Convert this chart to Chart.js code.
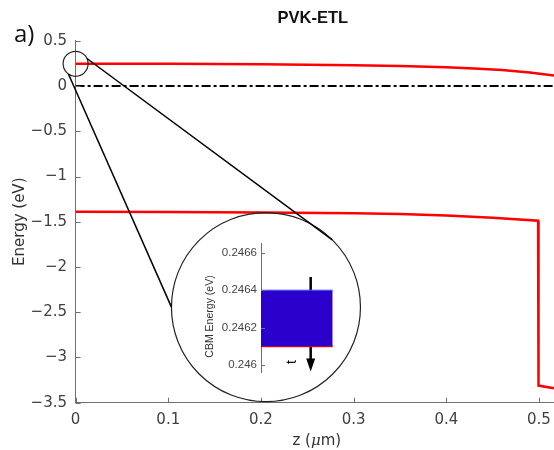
<!DOCTYPE html>
<html><head><meta charset="utf-8">
<script src="https://cdn.jsdelivr.net/npm/chart.js@4/dist/chart.umd.min.js"></script>
<style>
html,body{margin:0;padding:0;background:#fff;}
#wrap{position:relative;width:554px;height:450px;overflow:hidden;background:#fff;}
#main{position:absolute;left:0;top:0;}
#inset{position:absolute;left:175px;top:235px;}
</style></head><body>
<div id="wrap"><canvas id="main" width="554" height="450"></canvas><canvas id="inset" width="170" height="145"></canvas></div>
<script>
// ---------- data ----------
const plotTitle = 'PVK-ETL';
const panelLabel = 'a)';
const zCBM = [0, 0.05, 0.1, 0.15, 0.2, 0.25, 0.3, 0.35, 0.4, 0.43, 0.46, 0.49, 0.5162];
const eCBM = [0.246, 0.246, 0.245, 0.243, 0.240, 0.236, 0.230, 0.221, 0.208, 0.195, 0.178, 0.150, 0.115];
const zVBM = [0, 0.1, 0.2, 0.3, 0.35, 0.4, 0.45, 0.499, 0.4995, 0.5162];
const eVBM = [-1.390, -1.393, -1.398, -1.407, -1.413, -1.432, -1.455, -1.488, -3.311, -3.340];
const zFermi = [0, 0.5162];
const eFermi = [0, 0];
const xTicks = [0, 0.1, 0.2, 0.3, 0.4, 0.5];
const xTickLabels = ['0', '0.1', '0.2', '0.3', '0.4', '0.5'];
const yTicks = [-3.5, -3, -2.5, -2, -1.5, -1, -0.5, 0, 0.5];
const yTickLabels = ['\u22123.5', '\u22123', '\u22122.5', '\u22122', '\u22121.5', '\u22121', '\u22120.5', '0', '0.5'];

// inset (zoom of CBM near z = 0)
const insetX = [0, 1];
const insetTop = [0.2464, 0.2464];
const insetBottom = [0.2461, 0.2461];
const arrowX = [0.693, 0.693];
const arrowY = [0.24647, 0.24603];
const insetTicks = [0.246, 0.2462, 0.2464, 0.2466];
const insetTickLabels = ['0.246', '0.2462', '0.2464', '0.2466'];

// magnifier annotation (data coordinates of circle centres)
const lens = {
  small: { z: 0, e: 0.246, r: 12.5 },
  big: { z: 0.2054, e: -2.444, r: 94.5 },
  links: [ { a1: -25, a2: -45.4 }, { a1: 125, a2: 180 } ]
};

const pts = (xs, ys) => xs.map((v, i) => ({ x: v, y: ys[i] }));
const axisColor = '#707070';
const tickFont = { family: 'DejaVu Sans', size: 15 };

const mainDecor = {
  id: 'mainDecor',
  afterDraw(chart) {
    const { ctx, chartArea: a, scales: { x, y } } = chart;
    ctx.save();
    // inward ticks
    ctx.strokeStyle = axisColor; ctx.lineWidth = 1;
    xTicks.forEach(v => { const px = Math.round(x.getPixelForValue(v)) + 0.5; ctx.beginPath(); ctx.moveTo(px, a.bottom); ctx.lineTo(px, a.bottom - 5); ctx.stroke(); });
    yTicks.forEach(v => { const py = Math.round(y.getPixelForValue(v)) + 0.5; ctx.beginPath(); ctx.moveTo(a.left, py); ctx.lineTo(a.left + 5, py); ctx.stroke(); });
    // magnifier
    const s = { x: x.getPixelForValue(lens.small.z), y: y.getPixelForValue(lens.small.e), r: lens.small.r };
    const b = { x: x.getPixelForValue(lens.big.z), y: y.getPixelForValue(lens.big.e), r: lens.big.r };
    ctx.strokeStyle = '#222'; ctx.lineWidth = 1.2;
    ctx.beginPath(); ctx.arc(s.x, s.y, s.r, 0, Math.PI * 2); ctx.stroke();
    ctx.beginPath(); ctx.arc(b.x, b.y, b.r, 0, Math.PI * 2); ctx.stroke();
    ctx.strokeStyle = '#000'; ctx.lineWidth = 1.5;
    lens.links.forEach(l => {
      const t1 = l.a1 * Math.PI / 180, t2 = l.a2 * Math.PI / 180;
      ctx.beginPath();
      ctx.moveTo(s.x + s.r * Math.cos(t1), s.y + s.r * Math.sin(t1));
      ctx.lineTo(b.x + b.r * Math.cos(t2), b.y + b.r * Math.sin(t2));
      ctx.stroke();
    });
    // title and panel label
    ctx.fillStyle = '#111';
    ctx.font = 'bold 16.5px "Liberation Sans"';
    ctx.textAlign = 'center'; ctx.textBaseline = 'middle';
    ctx.fillText(plotTitle, (a.left + a.right) / 2 - 2, 18);
    ctx.font = '24px "Open Sans"';
    ctx.textAlign = 'left';
    ctx.fillText(panelLabel, 14, 35);
    // x axis title with italic mu
    const parts = [['z (', '15px "DejaVu Sans"'], ['\u03bc', 'italic 15px "DejaVu Serif"'], ['m)', '15px "DejaVu Sans"']];
    let w = 0; parts.forEach(p => { ctx.font = p[1]; w += ctx.measureText(p[0]).width; });
    let cx = (a.left + a.right) / 2 + 2 - w / 2;
    ctx.fillStyle = '#333';
    parts.forEach(p => { ctx.font = p[1]; ctx.fillText(p[0], cx, 441.5); cx += ctx.measureText(p[0]).width; });
    ctx.restore();
  }
};

new Chart(document.getElementById('main'), {
  type: 'line',
  data: {
    datasets: [
      { label: 'CBM', data: pts(zCBM, eCBM), borderColor: '#ff0000', borderWidth: 2.5, pointRadius: 0, tension: 0 },
      { label: 'VBM', data: pts(zVBM, eVBM), borderColor: '#ff0000', borderWidth: 2.5, pointRadius: 0, tension: 0 },
      { label: 'EF', data: pts(zFermi, eFermi), borderColor: '#000', borderWidth: 2, borderDash: [9, 3, 3, 3], pointRadius: 0 }
    ]
  },
  options: {
    responsive: false, animation: false, devicePixelRatio: 1,
    layout: { padding: { left: 0, right: 0, top: 40.8, bottom: 0 } },
    plugins: { legend: { display: false }, title: { display: false }, tooltip: { enabled: false } },
    scales: {
      x: {
        type: 'linear', min: 0, max: 0.5162,
        grid: { display: false, drawTicks: false },
        border: { display: true, color: axisColor, width: 1 },
        afterBuildTicks: sc => { sc.ticks = xTicks.map(v => ({ value: v })); },
        afterFit: sc => { sc.height = 47.3; sc.paddingLeft = 0; sc.paddingRight = 0; },
        ticks: { autoSkip: false, maxRotation: 0, padding: 8, color: '#404040', font: tickFont, callback: (v, i) => xTickLabels[i] }
      },
      y: {
        type: 'linear', min: -3.5, max: 0.5,
        grid: { display: false, drawTicks: false },
        border: { display: true, color: axisColor, width: 1 },
        afterBuildTicks: sc => { sc.ticks = yTicks.map(v => ({ value: v })); },
        afterFit: sc => { sc.width = 75.6; sc.paddingTop = 0; sc.paddingBottom = 0; },
        ticks: { autoSkip: false, padding: 8.6, color: '#404040', font: tickFont, callback: (v, i) => yTickLabels[i] },
        title: { display: true, text: 'Energy (eV)', color: '#333', font: { family: 'DejaVu Sans', size: 15 }, padding: { top: 11, bottom: 0 } }
      }
    }
  },
  plugins: [mainDecor]
});

const insetDecor = {
  id: 'insetDecor',
  afterDraw(chart) {
    const { ctx, chartArea: a, scales: { x, y } } = chart;
    ctx.save();
    ctx.strokeStyle = axisColor; ctx.lineWidth = 1;
    insetTicks.forEach(v => { const py = Math.round(y.getPixelForValue(v)) + 0.5; ctx.beginPath(); ctx.moveTo(a.left, py); ctx.lineTo(a.left + 4, py); ctx.stroke(); });
    // arrow head
    const m = chart.getDatasetMeta(2).data; const p = m[m.length - 1];
    ctx.fillStyle = '#000';
    ctx.beginPath(); ctx.moveTo(p.x - 4.5, p.y - 1); ctx.lineTo(p.x + 4.5, p.y - 1); ctx.lineTo(p.x, p.y + 12); ctx.closePath(); ctx.fill();
    // "t" label
    ctx.translate(x.getPixelForValue(0.43), y.getPixelForValue(0.246016));
    ctx.rotate(-Math.PI / 2);
    ctx.font = '14px "Liberation Sans"'; ctx.textAlign = 'center'; ctx.textBaseline = 'middle';
    ctx.fillText('t', 0, 0);
    ctx.restore();
    // y title
    ctx.save();
    ctx.translate(35, (a.top + a.bottom) / 2 + 9);
    ctx.rotate(-Math.PI / 2);
    ctx.font = '10.5px "Liberation Sans"'; ctx.fillStyle = '#333'; ctx.textAlign = 'center'; ctx.textBaseline = 'middle';
    ctx.fillText('CBM Energy (eV)', 0, 0);
    ctx.restore();
  }
};

new Chart(document.getElementById('inset'), {
  type: 'line',
  data: {
    datasets: [
      { data: pts(insetX, insetTop), borderColor: '#4a4aff', borderWidth: 1, pointRadius: 0, fill: '+1', backgroundColor: '#2b00cc' },
      { data: pts(insetX, insetBottom), borderColor: '#ff0000', borderWidth: 2, pointRadius: 0, fill: false },
      { data: pts(arrowX, arrowY), borderColor: '#000', borderWidth: 2.5, pointRadius: 0, fill: false }
    ]
  },
  options: {
    responsive: false, animation: false, devicePixelRatio: 1,
    layout: { padding: { left: 0, right: 5, top: 8, bottom: 8 } },
    plugins: { legend: { display: false }, title: { display: false }, tooltip: { enabled: false } },
    scales: {
      x: { type: 'linear', min: 0, max: 1.102, display: false },
      y: {
        type: 'linear', min: 0.245963, max: 0.246652,
        grid: { display: false, drawTicks: false },
        border: { display: true, color: axisColor, width: 1 },
        afterBuildTicks: sc => { sc.ticks = insetTicks.map(v => ({ value: v })); },
        afterFit: sc => { sc.width = 86; sc.paddingTop = 0; sc.paddingBottom = 0; },
        ticks: { autoSkip: false, padding: 4, color: '#444', font: { family: 'Liberation Sans', size: 11.5 }, callback: (v, i) => insetTickLabels[i] }
      }
    }
  },
  plugins: [insetDecor]
});
</script>
</body></html>
